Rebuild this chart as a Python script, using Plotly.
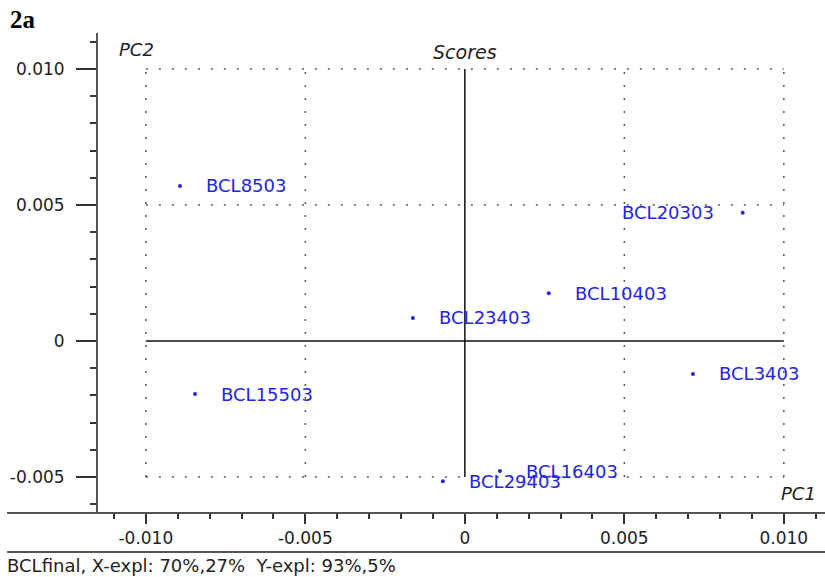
import plotly.graph_objects as go

labels = ["BCL8503", "BCL20303", "BCL10403", "BCL23403", "BCL3403", "BCL15503", "BCL29403", "BCL16403"]
pc1 = [-0.00893, 0.00871, 0.00263, -0.00163, 0.00715, -0.00846, -0.00069, 0.00110]
pc2 = [0.00570, 0.00471, 0.00176, 0.00085, -0.00121, -0.00195, -0.00515, -0.00478]
label_side = ["right", "left", "right", "right", "right", "right", "right", "right"]

x_ticks = [-0.010, -0.005, 0.0, 0.005, 0.010]
x_ticktext = ["-0.010", "-0.005", "0", "0.005", "0.010"]
y_ticks = [-0.005, 0.0, 0.005, 0.010]
y_ticktext = ["-0.005", "0", "0.005", "0.010"]
grid_x = [-0.010, -0.005, 0.005, 0.010]
grid_y = [-0.005, 0.005, 0.010]
grid_xrange = [-0.010, 0.010]
grid_yrange = [-0.005, 0.010]

BLUE = "#2424e6"
FONT = "DejaVu Sans, Verdana, sans-serif"

fig = go.Figure()
fig.add_trace(go.Scatter(x=pc1, y=pc2, mode="markers",
                         marker=dict(size=4, color=BLUE), hoverinfo="text", text=labels))

annotations = []
for lab, x, y, side in zip(labels, pc1, pc2, label_side):
    annotations.append(dict(x=x, y=y, xref="x", yref="y", text=lab, showarrow=False,
                            xanchor="left" if side == "right" else "right",
                            xshift=24 if side == "right" else -27,
                            font=dict(family=FONT, size=18, color=BLUE)))

shapes = []
for gx in grid_x:
    shapes.append(dict(type="line", xref="x", yref="y", x0=gx, x1=gx, y0=grid_yrange[0], y1=grid_yrange[1],
                       line=dict(color="#555", width=1.5, dash="2px,11px"), layer="below"))
for gy in grid_y:
    shapes.append(dict(type="line", xref="x", yref="y", x0=grid_xrange[0], x1=grid_xrange[1], y0=gy, y1=gy,
                       line=dict(color="#555", width=1.5, dash="2px,11px"), layer="below"))
shapes.append(dict(type="line", xref="x", yref="y", x0=0, x1=0, y0=grid_yrange[0], y1=grid_yrange[1],
                   line=dict(color="#111", width=1.5), layer="below"))
shapes.append(dict(type="line", xref="x", yref="y", x0=grid_xrange[0], x1=grid_xrange[1], y0=0, y1=0,
                   line=dict(color="#111", width=1.5), layer="below"))
# frame lines
shapes.append(dict(type="line", xref="paper", yref="paper", x0=-0.125, x1=1.0, y0=0, y1=0,
                   line=dict(color="#555", width=2)))
shapes.append(dict(type="line", xref="paper", yref="paper", x0=-0.125, x1=1.0, y0=-0.081, y1=-0.081,
                   line=dict(color="#555", width=2)))

annotations += [
    dict(x=-0.124, y=1.029, xref="paper", yref="paper", text="<b>2a</b>", showarrow=False,
         xanchor="left", yanchor="middle", font=dict(family="Liberation Serif, Times New Roman, serif", size=25, color="#000")),
    dict(x=0.026, y=0.965, xref="paper", yref="paper", text="<i>PC2</i>", showarrow=False,
         xanchor="left", yanchor="middle", font=dict(family=FONT, size=18, color="#222")),
    dict(x=0.0, y=0.960, xref="x", yref="paper", text="<i>Scores</i>", showarrow=False,
         xanchor="center", yanchor="middle", font=dict(family=FONT, size=19, color="#222")),
    dict(x=0.991, y=0.040, xref="paper", yref="paper", text="<i>PC1</i>", showarrow=False,
         xanchor="right", yanchor="middle", font=dict(family=FONT, size=18, color="#222")),
    dict(x=-0.128, y=-0.110, xref="paper", yref="paper", text="BCLfinal, X-expl: 70%,27%  Y-expl: 93%,5%",
         showarrow=False, xanchor="left", yanchor="middle", font=dict(family=FONT, size=18, color="#222")),
]

fig.update_layout(
    width=825, height=577,
    margin=dict(l=98, r=0, t=33, b=64),
    paper_bgcolor="white", plot_bgcolor="white",
    showlegend=False,
    shapes=shapes, annotations=annotations,
    xaxis=dict(range=[-0.01150, 0.01129], tickvals=x_ticks, ticktext=x_ticktext,
               showgrid=False, zeroline=False, showline=False,
               ticks="outside", ticklen=10, tickwidth=1.5, tickcolor="#333",
               minor=dict(dtick=0.001, tick0=0, ticks="outside", ticklen=5, tickcolor="#333", tickwidth=1.5),
               tickfont=dict(family=FONT, size=17, color="#222")),
    yaxis=dict(range=[-0.00632, 0.01132], tickvals=y_ticks, ticktext=y_ticktext,
               showgrid=False, zeroline=False, showline=True, linecolor="#555", linewidth=2,
               ticks="outside", ticklen=20, tickwidth=1.5, tickcolor="#333",
               minor=dict(dtick=0.001, tick0=0, ticks="outside", ticklen=6, tickcolor="#333", tickwidth=1.5),
               ticklabelstandoff=8,
               tickfont=dict(family=FONT, size=17, color="#222")),
)

fig.write_html("out.html")
